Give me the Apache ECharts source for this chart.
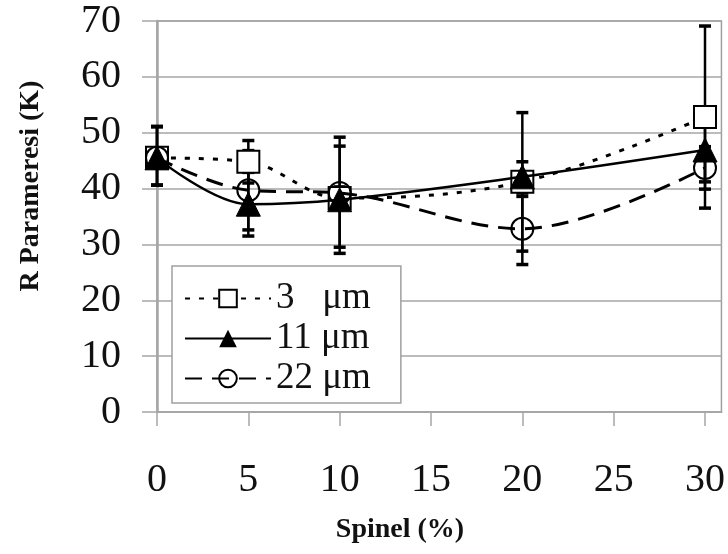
<!DOCTYPE html>
<html>
<head>
<meta charset="utf-8">
<script src="https://cdn.jsdelivr.net/npm/echarts@6/dist/echarts.min.js"></script>
<style>
  html, body { margin:0; padding:0; background:#fff; }
  #chart { width:728px; height:554px; }
</style>
</head>
<body>
<div id="chart"></div>
<script>
// x values (Spinel %)
var spinel = [0, 5, 10, 20, 30];
var xTicks = [0, 5, 10, 15, 20, 25, 30];

// 3 um
var r3     = [45.5, 44.8, 38.3, 41.2, 52.8];
var r3Low  = [40.6, 41.0, 36.3, 38.6, 36.5];
var r3High = [51.1, 48.6, 40.3, 44.8, 69.1];

// 11 um
var r11     = [45.5, 37.2, 38.0, 42.1, 46.9];
var r11Low  = [40.6, 31.5, 28.4, 28.8, 41.2];
var r11High = [51.1, 42.9, 47.6, 53.6, 52.6];

// 22 um
var r22     = [45.5, 39.7, 39.2, 32.8, 43.7];
var r22Low  = [40.6, 32.6, 29.5, 26.4, 39.9];
var r22High = [51.1, 46.8, 49.2, 39.2, 47.5];

var names = ['3   μm', '11 μm', '22 μm'];
var serif = 'Liberation Serif';

function pts(ys){
	return spinel.map(function(x, i){ return [x, ys[i]]; });
}
function errRows(lo, hi){
	return spinel.map(function(x, i){ return [x, lo[i], hi[i]]; });
}

//误差线
function errorItem(params, api){
	var x = api.value(0);
	var lo = api.coord([x, api.value(1)]);
	var hi = api.coord([x, api.value(2)]);
	var w = 6;
	var bar = {stroke:'#000', lineWidth:2.5};
	var cap = {stroke:'#000', lineWidth:3.5};
	return {
		type:'group',
		children:[
			{type:'line', shape:{x1:lo[0], y1:lo[1], x2:hi[0], y2:hi[1]}, style:bar},
			{type:'line', shape:{x1:lo[0]-w, y1:lo[1], x2:lo[0]+w, y2:lo[1]}, style:cap},
			{type:'line', shape:{x1:hi[0]-w, y1:hi[1], x2:hi[0]+w, y2:hi[1]}, style:cap}
		]
	};
}

function errSeries(name, lo, hi){
	return {
		name:name,
		type:'custom',
		renderItem:errorItem,
		data:errRows(lo, hi),
		z:1,
		silent:true
	};
}

var myChart = echarts.init(document.getElementById('chart'));
var option = {
	backgroundColor:'#fff',
	animation:false,
	grid:{
		left:157,
		top:21,
		right:6,
		bottom:142,
		show:true,
		borderColor:'#a0a0a0',
		borderWidth:1.5
	},
	legend:{
		data:names,
		orient:'vertical',
		left:172,
		top:266,
		padding:[14, 30, 6, 12],
		itemGap:3,
		itemWidth:86,
		itemHeight:22,
		backgroundColor:'#fff',
		borderColor:'#a0a0a0',
		borderWidth:1.5,
		textStyle:{fontFamily:serif, fontSize:37, color:'#111', lineHeight:33}
	},
	xAxis:{
		type:'value',
		min:0,
		max:30.9,
		interval:5,
		axisLine:{lineStyle:{color:'#a6a6a6', width:2}},
		axisTick:{length:14, lineStyle:{color:'#a6a6a6', width:1.5}, customValues:xTicks},
		axisLabel:{
			margin:48,
			customValues:xTicks,
			fontFamily:serif,
			fontSize:40,
			color:'#111',
			formatter:function(v){ return v % 5 === 0 ? String(v) : ''; }
		},
		splitLine:{show:false}
	},
	yAxis:{
		type:'value',
		min:0,
		max:70,
		interval:10,
		axisLine:{show:true, lineStyle:{color:'#a6a6a6', width:2.5}},
		axisTick:{show:true, length:15, lineStyle:{color:'#a6a6a6', width:1.5}},
		axisLabel:{margin:36, fontFamily:serif, fontSize:40, color:'#111'},
		splitLine:{lineStyle:{color:'#a6a6a6', width:1.5}}
	},
	graphic:[
		{
			type:'text',
			x:31, y:186,
			rotation:Math.PI/2,
			style:{
				text:'R Parameresi (K)',
				fontFamily:serif, fontWeight:'bold', fontSize:28,
				fill:'#111', align:'center', verticalAlign:'middle'
			}
		},
		{
			type:'text',
			x:400, y:530,
			style:{
				text:'Spinel (%)',
				fontFamily:serif, fontWeight:'bold', fontSize:28,
				fill:'#111', align:'center', verticalAlign:'middle'
			}
		}
	],
	series:[
		errSeries('e3', r3Low, r3High),
		errSeries('e11', r11Low, r11High),
		errSeries('e22', r22Low, r22High),
		{
			name:names[0],
			type:'line',
			data:pts(r3),
			smooth:0.35,
			symbol:'rect',
			symbolSize:22,
			z:3,
			lineStyle:{color:'#000', width:3, type:[5, 9]},
			itemStyle:{color:'#fff', borderColor:'#000', borderWidth:2}
		},
		{
			name:names[2],
			type:'line',
			data:pts(r22),
			smooth:0.35,
			symbol:'circle',
			symbolSize:22,
			z:4,
			lineStyle:{color:'#000', width:3, type:[17, 10]},
			itemStyle:{color:'rgba(255,255,255,0)', borderColor:'#000', borderWidth:2}
		},
		{
			name:names[1],
			type:'line',
			data:pts(r11),
			smooth:0.35,
			symbol:'triangle',
			symbolSize:24,
			z:5,
			lineStyle:{color:'#000', width:2.5},
			itemStyle:{color:'#000', borderColor:'#000'}
		}
	]
};
myChart.setOption(option);
</script>
</body>
</html>
